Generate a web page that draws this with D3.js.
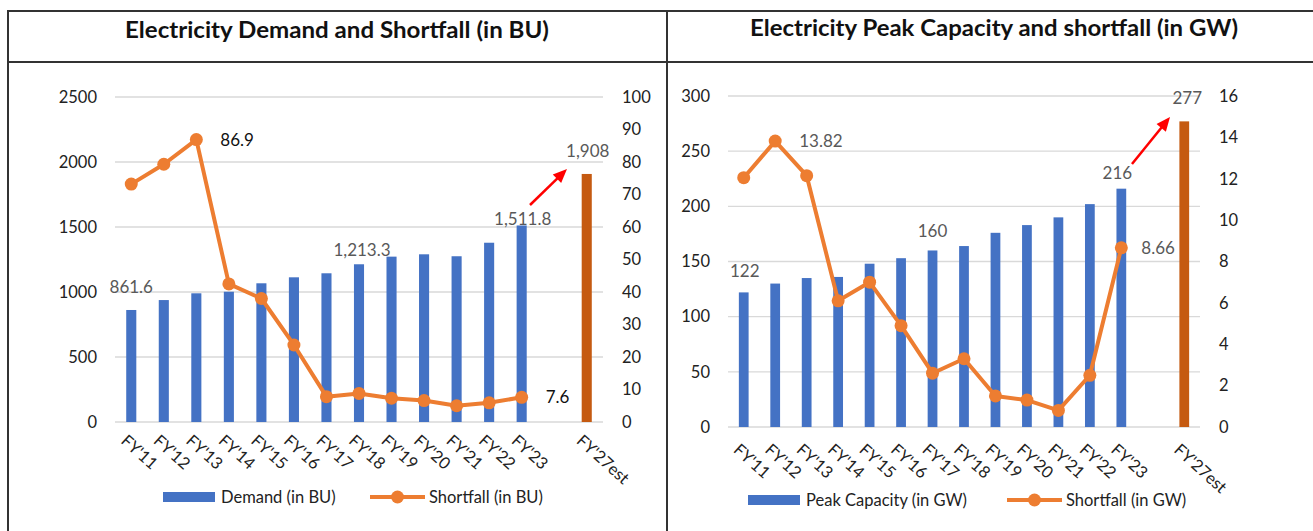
<!DOCTYPE html>
<html>
<head>
<meta charset="utf-8">
<script src="https://cdn.jsdelivr.net/npm/d3@7"></script>
<style>
  body { margin: 0; background: #fff; }
  svg text { font-family: Lato, "Open Sans", sans-serif; }
</style>
</head>
<body>
<svg id="chart" width="1313" height="531"></svg>
<script>
// categories (the empty one is the gap before the estimate)
const categories = ["FY'11", "FY'12", "FY'13", "FY'14", "FY'15", "FY'16", "FY'17",
	"FY'18", "FY'19", "FY'20", "FY'21", "FY'22", "FY'23", "", "FY'27est"];

// left chart: demand and shortfall in BU
const demandBU = [861.6, 938, 990, 1002, 1067, 1113, 1144, 1213.3, 1272, 1290, 1275, 1379, 1511.8, null, 1908];
const shortfallBU = [73.2, 79.3, 86.9, 42.5, 38.0, 23.7, 7.8, 8.8, 7.3, 6.6, 5.0, 5.9, 7.6, null, null];
const demandTicks = [0, 500, 1000, 1500, 2000, 2500];
const shortfallBUTicks = [0, 10, 20, 30, 40, 50, 60, 70, 80, 90, 100];

// right chart: peak capacity and shortfall in GW
const capacityGW = [122, 130, 135, 136, 148, 153, 160, 164, 176, 183, 190, 202, 216, null, 277];
const shortfallGW = [12.05, 13.82, 12.15, 6.1, 7.0, 4.9, 2.6, 3.3, 1.5, 1.3, 0.8, 2.5, 8.66, null, null];
const capacityTicks = [0, 50, 100, 150, 200, 250, 300];
const shortfallGWTicks = [0, 2, 4, 6, 8, 10, 12, 14, 16];

const blue = '#4472C4';
const orange = '#ED7D31';
const estColor = '#C55A11';
const labelGray = '#595959';

let svg = d3.select('#chart');

// frame
let frame = svg.append('g').attr('stroke', '#333').attr('stroke-width', 2);
frame.append('line').attr('x1', 8).attr('x2', 1313).attr('y1', 11).attr('y2', 11);
frame.append('line').attr('x1', 8).attr('x2', 1313).attr('y1', 62).attr('y2', 62);
frame.append('line').attr('x1', 8).attr('x2', 8).attr('y1', 10).attr('y2', 531);
frame.append('line').attr('x1', 667).attr('x2', 667).attr('y1', 10).attr('y2', 531);

function drawPanel(opt) {
	let g = svg.append('g');

	g.append('text')
		.attr('x', opt.titleX)
		.attr('y', opt.titleY)
		.attr('text-anchor', 'middle')
		.attr('textLength', opt.titleW)
		.attr('lengthAdjust', 'spacingAndGlyphs')
		.style('font-size', '22px')
		.style('font-weight', 'bold')
		.style('fill', '#111')
		.text(opt.title);

	let x = d3.scaleBand()
		.domain(d3.range(categories.length))
		.range([opt.left, opt.right])
		.paddingInner(0.69)
		.paddingOuter(0.345);

	let yL = d3.scaleLinear().domain(opt.leftDomain).range([opt.bottom, opt.top]);
	let yR = d3.scaleLinear().domain(opt.rightDomain).range([opt.bottom, opt.top]);

	// gridlines
	g.append('g')
		.selectAll('line')
		.data(opt.leftTicks)
		.enter()
		.append('line')
		.attr('x1', opt.left)
		.attr('x2', opt.right)
		.attr('y1', d => yL(d))
		.attr('y2', d => yL(d))
		.attr('stroke', '#D9D9D9')
		.attr('stroke-width', 1.3);

	// axes
	let axL = g.append('g')
		.attr('transform', 'translate(' + (opt.left - 18) + ',0)')
		.call(d3.axisLeft(yL).tickValues(opt.leftTicks).tickFormat(d3.format('d')).tickSize(0).tickPadding(0));
	let axR = g.append('g')
		.attr('transform', 'translate(' + (opt.right + 19) + ',0)')
		.call(d3.axisRight(yR).tickValues(opt.rightTicks).tickFormat(d3.format('d')).tickSize(0).tickPadding(0));
	[axL, axR].forEach(a => {
		a.select('.domain').remove();
		a.selectAll('text')
			.style('font-size', '16.5px')
			.style('font-family', 'Lato, sans-serif')
			.style('fill', '#222');
	});

	// x labels
	g.append('g')
		.selectAll('text')
		.data(categories)
		.enter()
		.append('text')
		.attr('transform', (d, i) => 'translate(' + (x(i) + x.bandwidth() / 2 - 3) + ',' + (opt.bottom + opt.xLabelGap) + ') rotate(42)')
		.attr('dy', '0.75em')
		.style('font-size', '16.5px')
		.style('fill', '#222')
		.text(d => d);

	// bars
	g.append('g')
		.selectAll('rect')
		.data(opt.bars)
		.enter()
		.filter(d => d != null)
		.append('rect')
		.attr('x', (d, i) => x(opt.bars.indexOf(d)))
		.attr('y', d => yL(d))
		.attr('width', x.bandwidth())
		.attr('height', d => yL(0) - yL(d))
		.attr('fill', d => opt.bars.indexOf(d) == categories.length - 1 ? estColor : blue);

	// line
	let pts = opt.line.map((v, i) => ({ i: i, v: v })).filter(d => d.v != null);
	let line = d3.line()
		.x(d => x(d.i) + x.bandwidth() / 2)
		.y(d => yR(d.v));

	g.append('path')
		.datum(pts)
		.attr('d', line)
		.attr('fill', 'none')
		.attr('stroke', orange)
		.attr('stroke-width', 4)
		.attr('stroke-linejoin', 'round');

	g.append('g')
		.selectAll('circle')
		.data(pts)
		.enter()
		.append('circle')
		.attr('cx', d => x(d.i) + x.bandwidth() / 2)
		.attr('cy', d => yR(d.v))
		.attr('r', 6.5)
		.attr('fill', orange);

	// data labels
	opt.barLabels.forEach(l => {
		g.append('text')
			.attr('x', x(l.i) + x.bandwidth() / 2 + l.dx)
			.attr('y', yL(opt.bars[l.i]) + l.dy)
			.attr('text-anchor', 'middle')
			.style('font-size', '17px')
			.style('fill', labelGray)
			.text(l.text);
	});
	opt.lineLabels.forEach(l => {
		g.append('text')
			.attr('x', x(l.i) + x.bandwidth() / 2 + l.dx)
			.attr('y', yR(opt.line[l.i]) + l.dy)
			.style('font-size', '17px')
			.style('fill', opt.lineLabelColor)
			.text(l.text);
	});

	// arrow
	let a = opt.arrow;
	let ang = Math.atan2(a.y2 - a.y1, a.x2 - a.x1);
	let hl = 14;
	g.append('line')
		.attr('x1', a.x1).attr('y1', a.y1)
		.attr('x2', a.x2 - Math.cos(ang) * hl * 0.8).attr('y2', a.y2 - Math.sin(ang) * hl * 0.8)
		.attr('stroke', '#FF0000')
		.attr('stroke-width', 2.5);
	let pA = [a.x2 - Math.cos(ang) * hl + Math.sin(ang) * 6, a.y2 - Math.sin(ang) * hl - Math.cos(ang) * 6];
	let pB = [a.x2 - Math.cos(ang) * hl - Math.sin(ang) * 6, a.y2 - Math.sin(ang) * hl + Math.cos(ang) * 6];
	g.append('path')
		.attr('d', 'M' + a.x2 + ',' + a.y2 + 'L' + pA + 'L' + pB + 'Z')
		.attr('fill', '#FF0000');

	// legend
	let lg = g.append('g').attr('transform', 'translate(' + opt.legendX + ',' + opt.legendY + ')');
	lg.append('rect').attr('x', 0).attr('y', -5).attr('width', 52).attr('height', 10).attr('fill', blue);
	lg.append('text').attr('x', 58).attr('y', 0).attr('dy', '0.35em')
		.style('font-size', '16.5px').style('fill', '#222').text(opt.barName);
	let ox = opt.legendX2 - opt.legendX;
	lg.append('line').attr('x1', ox).attr('x2', ox + 55).attr('y1', 0).attr('y2', 0)
		.attr('stroke', orange).attr('stroke-width', 4);
	lg.append('circle').attr('cx', ox + 27.5).attr('cy', 0).attr('r', 6.5).attr('fill', orange);
	lg.append('text').attr('x', ox + 59).attr('y', 0).attr('dy', '0.35em')
		.style('font-size', '16.5px').style('fill', '#222').text(opt.lineName);
}

drawPanel({
	title: 'Electricity Demand and Shortfall (in BU)',
	titleX: 337, titleY: 38, titleW: 424,
	left: 115, right: 603, top: 97, bottom: 422,
	leftDomain: [0, 2500], rightDomain: [0, 100],
	leftTicks: demandTicks, rightTicks: shortfallBUTicks,
	xLabelGap: 11,
	bars: demandBU, line: shortfallBU,
	barLabels: [
		{ i: 0, text: '861.6', dx: 0, dy: -17 },
		{ i: 7, text: '1,213.3', dx: 3, dy: -8 },
		{ i: 12, text: '1,511.8', dx: 1, dy: 0 },
		{ i: 14, text: '1,908', dx: 1, dy: -17 }
	],
	lineLabels: [
		{ i: 2, text: '86.9', dx: 24, dy: 6 },
		{ i: 12, text: '7.6', dx: 24, dy: 6 }
	],
	lineLabelColor: '#111',
	arrow: { x1: 530, y1: 205, x2: 567, y2: 169 },
	barName: 'Demand (in BU)', lineName: 'Shortfall (in BU)',
	legendX: 163, legendX2: 370, legendY: 497
});

drawPanel({
	title: 'Electricity Peak Capacity and shortfall (in GW)',
	titleX: 994, titleY: 36, titleW: 488,
	left: 728, right: 1200, top: 96, bottom: 427,
	leftDomain: [0, 300], rightDomain: [0, 16],
	leftTicks: capacityTicks, rightTicks: shortfallGWTicks,
	xLabelGap: 15,
	bars: capacityGW, line: shortfallGW,
	barLabels: [
		{ i: 0, text: '122', dx: 1, dy: -15 },
		{ i: 6, text: '160', dx: 0, dy: -13 },
		{ i: 12, text: '216', dx: -4, dy: -10 },
		{ i: 14, text: '277', dx: 3, dy: -17 }
	],
	lineLabels: [
		{ i: 1, text: '13.82', dx: 24, dy: 6 },
		{ i: 12, text: '8.66', dx: 20, dy: 6 }
	],
	lineLabelColor: labelGray,
	arrow: { x1: 1132, y1: 164, x2: 1170, y2: 117 },
	barName: 'Peak Capacity (in GW)', lineName: 'Shortfall (in GW)',
	legendX: 748, legendX2: 1007, legendY: 500
});
</script>
</body>
</html>
